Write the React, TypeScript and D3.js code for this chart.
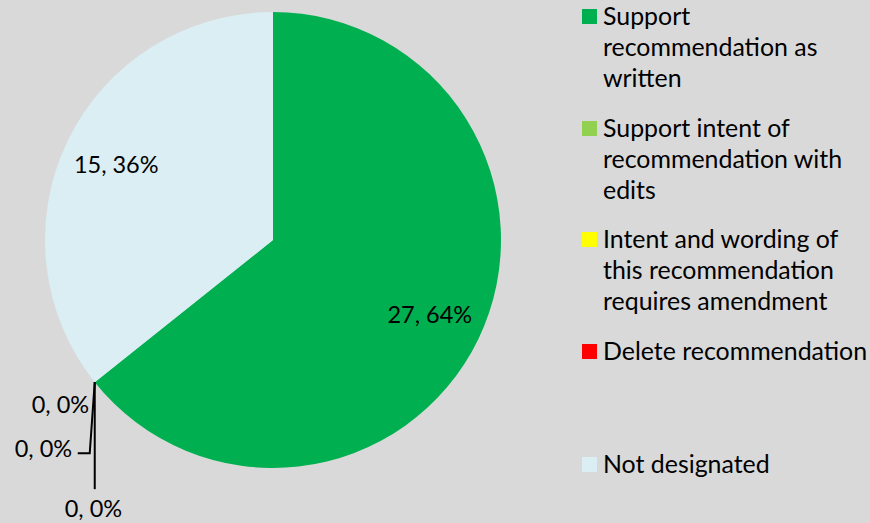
import React from "react";
import * as d3 from "d3";

const categories = [
  "Support recommendation as written",
  "Support intent of recommendation with edits",
  "Intent and wording of this recommendation requires amendment",
  "Delete recommendation",
  "Not designated",
];
const legendLines = [
  ["Support", "recommendation as", "written"],
  ["Support intent of", "recommendation with", "edits"],
  ["Intent and wording of", "this recommendation", "requires amendment"],
  ["Delete recommendation"],
  ["Not designated"],
];
const values = [27, 0, 0, 0, 15];
const colors = ["#00B050", "#92D050", "#FFFF00", "#FF0000", "#DAEEF3"];

const W = 870;
const H = 523;
const FONT = "Lato, 'Open Sans', sans-serif";

export default function App() {
  const cx = 273;
  const cy = 240;
  const r = 228;
  const total = d3.sum(values);
  const pie = d3.pie<number>().sort(null).value((d) => d)(values);
  const arc = d3.arc<d3.PieArcDatum<number>>().innerRadius(0).outerRadius(r);
  const labelArc = d3.arc<d3.PieArcDatum<number>>().innerRadius(174).outerRadius(174);
  const label = (v: number) => `${v}, ${Math.round((v / total) * 100)}%`;

  // point on the rim where the zero slices sit
  const zeroAngle = pie[1].startAngle;
  const px = cx + r * Math.sin(zeroAngle);
  const py = cy - r * Math.cos(zeroAngle);

  const legendX = 582;
  const legendBase = [25, 137, 248, 360, 473];
  const lineH = 31;

  return (
    <svg width={W} height={H} style={{ position: "absolute", left: 0, top: 0, background: "#D9D9D9" }} fontFamily={FONT}>
      <rect x={0} y={0} width={W} height={H} fill="#D9D9D9" />
      <g transform={`translate(${cx},${cy})`}>
        {pie.map((p, i) =>
          p.value > 0 ? <path key={i} d={arc(p) || ""} fill={colors[i]} /> : null
        )}
        {pie.map((p, i) => {
          if (p.value === 0) return null;
          const [x, y] = labelArc.centroid(p);
          return (
            <text key={i} x={x} y={y + 8} textAnchor="middle" fontSize={23.5} fill="#000">
              {label(p.value)}
            </text>
          );
        })}
      </g>
      {/* zero-value labels with leader lines */}
      <text x={px - 63} y={py + 31} fontSize={23.5} fill="#000">{label(values[1])}</text>
      <polyline points={`${px - 17},${py + 71} ${px - 5},${py + 71} ${px},${py}`} fill="none" stroke="#000" strokeWidth={2} />
      <text x={px - 80} y={py + 75} fontSize={23.5} fill="#000">{label(values[2])}</text>
      <line x1={px} y1={py} x2={px} y2={py + 107} stroke="#000" strokeWidth={2} />
      <text x={px - 30} y={py + 135} fontSize={23.5} fill="#000">{label(values[3])}</text>

      {categories.map((c, i) => (
        <g key={c}>
          <rect x={legendX} y={legendBase[i] - 16} width={15} height={15} fill={colors[i]} />
          {legendLines[i].map((ln, j) => (
            <text key={j} x={603} y={legendBase[i] + j * lineH} fontSize={24.9} fill="#000">
              {ln}
            </text>
          ))}
        </g>
      ))}
    </svg>
  );
}
